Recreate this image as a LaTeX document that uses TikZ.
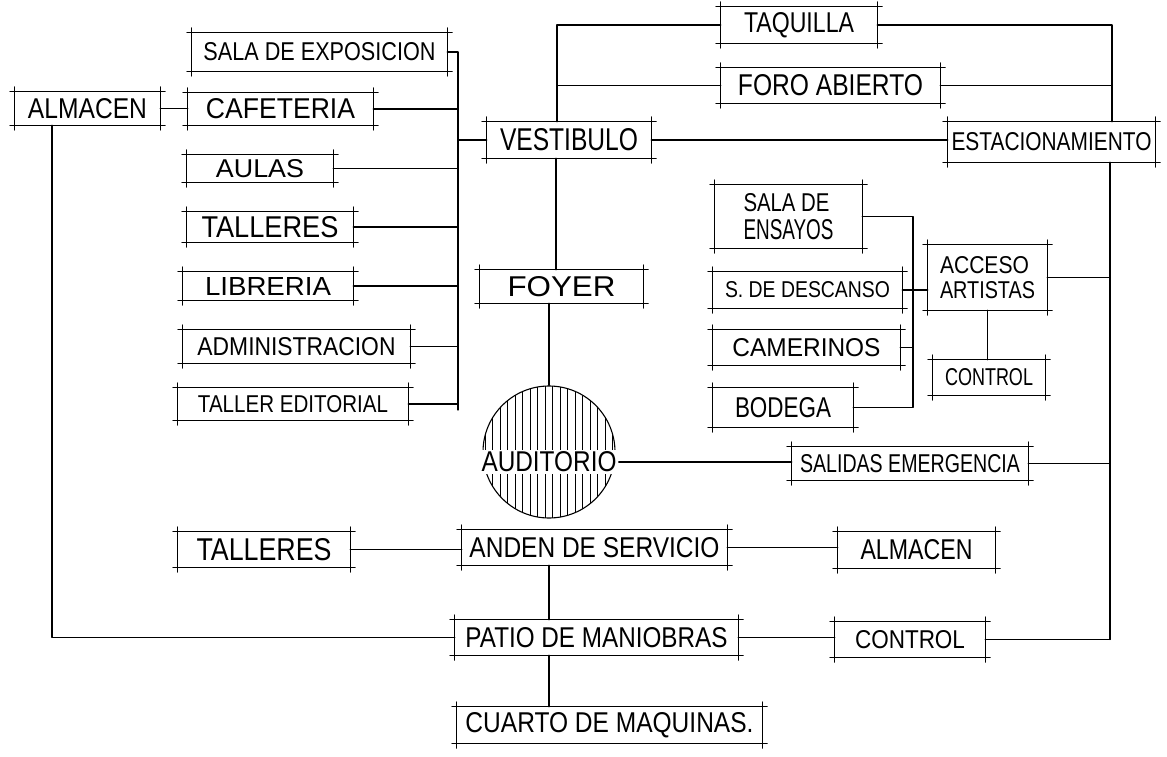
\documentclass[tikz,border=0pt]{standalone}
\usepackage{fontspec}
\usepackage{graphicx}
\setmainfont{Liberation Sans}
\newcommand\lab[3]{\resizebox{#1pt}{#2pt}{#3}}
\tikzset{
  ln/.style={line width=1.1pt, line cap=round, line join=round},
  ov/.style={ln, shorten <=-5pt, shorten >=-5pt},
  bx/.style={inner sep=0pt, append after command={
     (\tikzlastnode.north west) edge[ov] (\tikzlastnode.north east)
     (\tikzlastnode.south west) edge[ov] (\tikzlastnode.south east)
     (\tikzlastnode.north west) edge[ov] (\tikzlastnode.south west)
     (\tikzlastnode.north east) edge[ov] (\tikzlastnode.south east)}},
}
\begin{document}
\begin{tikzpicture}[x=1pt,y=-1pt]
\useasboundingbox (0,0) rectangle (1167,757);
% ---- left column
\node[bx,minimum width=255pt,minimum height=38pt] (sala) at (319.5,52) {\lab{232}{18}{SALA DE EXPOSICION}};
\node[bx,minimum width=145pt,minimum height=33pt] (alm1) at (87.5,108.5) {\lab{119}{20}{ALMACEN}};
\node[bx,minimum width=185pt,minimum height=32pt] (caf) at (280.5,109) {\lab{149}{20}{CAFETERIA}};
\node[bx,minimum width=146pt,minimum height=27pt] (aulas) at (260,168.5) {\lab{88}{18}{AULAS}};
\node[bx,minimum width=166pt,minimum height=30pt] (tall1) at (270,227) {\lab{137}{21}{TALLERES}};
\node[bx,minimum width=170pt,minimum height=28pt] (lib) at (268,286) {\lab{126}{18}{LIBRERIA}};
\node[bx,minimum width=227pt,minimum height=33pt] (adm) at (296.5,346.5) {\lab{198}{18}{ADMINISTRACION}};
\node[bx,minimum width=230pt,minimum height=32pt] (ted) at (293,404) {\lab{190}{17}{TALLER EDITORIAL}};
% ---- centre column
\node[bx,minimum width=164pt,minimum height=36pt] (vest) at (569,140) {\lab{138}{22}{VESTIBULO}};
\node[bx,minimum width=163pt,minimum height=33pt] (foyer) at (561.5,286.5) {\lab{108}{20}{FOYER}};
\node[circle,draw,line width=1.1pt,minimum size=132pt,inner sep=0pt,
  path picture={\foreach \i in {-64,-56.5,...,64}
    \draw[line width=1pt] ([xshift=\i pt]path picture bounding box.north) -- ([xshift=\i pt]path picture bounding box.south);}]
  (aud) at (549,452) {};
\node[fill=white,inner sep=2pt] (audl) at (549,462) {\lab{135}{20}{AUDITORIO}};
\node[bx,minimum width=265pt,minimum height=35pt] (anden) at (594.5,547.5) {\lab{250}{20}{ANDEN DE SERVICIO}};
\node[bx,minimum width=283pt,minimum height=35pt] (patio) at (596.5,637.5) {\lab{262}{20}{PATIO DE MANIOBRAS}};
\node[bx,minimum width=305pt,minimum height=36pt] (cuarto) at (609.5,725) {\lab{288}{20}{CUARTO DE MAQUINAS.}};
% ---- bottom row
\node[bx,minimum width=172pt,minimum height=35pt] (tall2) at (264,549.5) {\lab{135}{22}{TALLERES}};
\node[bx,minimum width=157pt,minimum height=36pt] (alm2) at (916.5,550) {\lab{112}{20}{ALMACEN}};
\node[bx,minimum width=150pt,minimum height=35pt] (ctrl2) at (910,639.5) {\lab{110}{18}{CONTROL}};
% ---- top right
\node[bx,minimum width=156pt,minimum height=36pt] (taq) at (799,25) {\lab{110}{20}{TAQUILLA}};
\node[bx,minimum width=219pt,minimum height=35pt] (foro) at (830.5,85.5) {\lab{185}{21}{FORO ABIERTO}};
\node[bx,minimum width=207pt,minimum height=40pt] (estac) at (1051.5,142) {\lab{200}{18}{ESTACIONAMIENTO}};
% ---- right middle
\node[bx,minimum width=147pt,minimum height=63pt,align=left] (ens) at (788.5,216.5) {\lab{86}{18}{SALA DE}\\[7pt]\lab{90}{20}{ENSAYOS}};
\node[bx,minimum width=189pt,minimum height=36pt] (desc) at (807.5,290) {\lab{165}{16}{S. DE DESCANSO}};
\node[bx,minimum width=187pt,minimum height=35pt] (cam) at (806.5,347.5) {\lab{148}{18}{CAMERINOS}};
\node[bx,minimum width=140pt,minimum height=39pt] (bod) at (783,407.5) {\lab{96}{20}{BODEGA}};
\node[bx,minimum width=119pt,minimum height=65pt,align=left] (acc) at (987.5,277.5) {\lab{89}{17}{ACCESO}\\[7pt]\lab{95}{17}{ARTISTAS}};
\node[bx,minimum width=112pt,minimum height=35pt] (ctrl1) at (989,377.5) {\lab{88}{17}{CONTROL}};
\node[bx,minimum width=236pt,minimum height=33pt] (sal) at (910,463.5) {\lab{220}{18}{SALIDAS EMERGENCIA}};
% ---- coordinates
\coordinate (lbT) at (458,52);
\coordinate (lbB) at (458,410);
\coordinate (vt) at (557,25);
\coordinate (rbT) at (1112,25);
\coordinate (rbB) at (1110,639.5);
\coordinate (eb) at (913,216.5);
\coordinate (mx) at (549,0);
\coordinate (ax) at (52,0);
% ---- connectors
\begin{scope}[ln]
\draw (alm1.east) -- (alm1.east -| caf.west);
\draw (sala.east) -- (lbT) -- (lbB);
\draw (caf.east) -- (caf.east -| lbT);
\draw (aulas.east) -- (aulas.east -| lbT);
\draw (tall1.east) -- (tall1.east -| lbT);
\draw (lib.east) -- (lib.east -| lbT);
\draw (adm.east) -- (adm.east -| lbT);
\draw (ted.east) -- (ted.east -| lbT);
\draw (lbT |- vest.west) -- (vest.west);
\draw (vest.north -| vt) -- (vt) -- (taq.west);
\draw (foro.west -| vt) -- (foro.west);
\draw (vest.east) -- (vest.east -| estac.west);
\draw (taq.east) -- (rbT) -- (estac.north -| rbT);
\draw (foro.east) -- (foro.east -| rbT);
\draw (estac.south -| rbB) -- (rbB);
\draw (acc.east) -- (acc.east -| rbB);
\draw (sal.east) -- (sal.east -| rbB);
\draw (ctrl2.east) -- (rbB);
\draw (ens.east) -- (eb) -- (eb |- bod.east) -- (bod.east);
\draw (desc.east) -- (desc.east -| acc.west);
\draw (cam.east) -- (cam.east -| eb);
\draw (acc.south) -- (acc.south |- ctrl1.north);
\draw ([xshift=-13pt]vest.south) -- ([xshift=-5.5pt]foyer.north);
\draw (foyer.south -| aud.north) -- (aud.north);
\draw (audl.east) -- (audl.east -| sal.west);
\draw (tall2.east) -- (tall2.east -| anden.west);
\draw (anden.east) -- (anden.east -| alm2.west);
\draw (anden.south -| mx) -- (patio.north -| mx);
\draw (patio.south -| mx) -- (cuarto.north -| mx);
\draw (alm1.south -| ax) |- (patio.west);
\draw (patio.east) -- (patio.east -| ctrl2.west);
\end{scope}
\end{tikzpicture}
\end{document}
